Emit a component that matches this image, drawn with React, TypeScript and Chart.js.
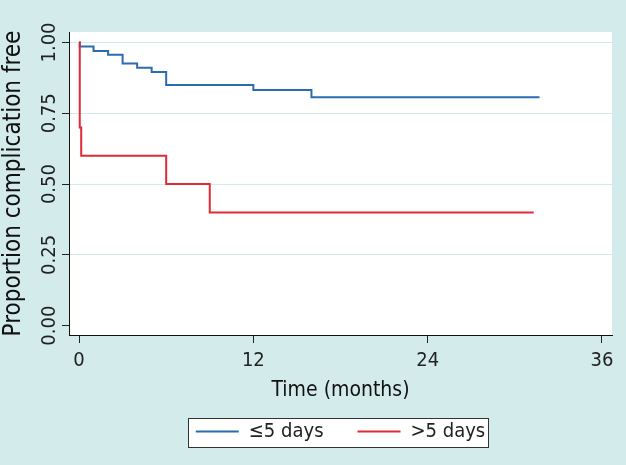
import React, { useEffect, useRef } from "react";
import { Chart, registerables } from "chart.js";

Chart.register(...registerables);

// ---- data ----
const shortLabel = "≤5 days";
const longLabel = ">5 days";
const shortTimes = [0, 0.05, 1, 2, 3, 4, 5, 6, 12, 16, 31.7];
const shortSurv = [1, 0.986, 0.97, 0.957, 0.926, 0.911, 0.896, 0.85, 0.832, 0.807, 0.807];
const longTimes = [0, 0.05, 0.15, 6, 9, 31.3];
const longSurv = [1, 0.7, 0.6, 0.5, 0.4, 0.4];
const xTickValues = [0, 12, 24, 36];
const yTickValues = [0, 0.25, 0.5, 0.75, 1];
const xTitle = "Time (months)";
const yTitle = "Proportion complication free";

const FONT = '"DejaVu Sans Condensed", "DejaVu Sans", sans-serif';
const BG = "#d4ebeb";
const BLUE = "#2b6cb0";
const RED = "#e02b35";

const bgPlugin = {
  id: "bgPlugin",
  beforeDraw(chart: any) {
    const { ctx, chartArea } = chart;
    ctx.save();
    ctx.fillStyle = BG;
    ctx.fillRect(0, 0, chart.width, chart.height);
    ctx.fillStyle = "#ffffff";
    ctx.fillRect(chartArea.left, chartArea.top, chartArea.right - chartArea.left, chartArea.bottom - chartArea.top);
    const lg = chart.legend;
    if (lg && lg.legendHitBoxes && lg.legendHitBoxes.length) {
      const hb = lg.legendHitBoxes;
      const first = hb[0];
      const last = hb[hb.length - 1];
      const l = Math.round(first.left - 8) + 0.5;
      const r = Math.round(last.left + last.width + 3) + 0.5;
      const t = Math.round(first.top - 4) + 0.5;
      const b = Math.round(first.top + first.height + 5) + 0.5;
      ctx.fillStyle = "#ffffff";
      ctx.fillRect(l, t, r - l, b - t);
      ctx.strokeStyle = "#333333";
      ctx.lineWidth = 1;
      ctx.strokeRect(l, t, r - l, b - t);
    }
    ctx.restore();
  },
};

const yLabelPlugin = {
  id: "yLabelPlugin",
  afterDraw(chart: any) {
    const ys = chart.scales.y;
    const ctx = chart.ctx;
    ctx.save();
    ctx.font = `20px ${FONT}`;
    ctx.fillStyle = "#222222";
    ctx.textAlign = "center";
    ctx.textBaseline = "alphabetic";
    yTickValues.forEach((v) => {
      const py = ys.getPixelForValue(v);
      ctx.save();
      ctx.translate(55, py);
      ctx.rotate(-Math.PI / 2);
      ctx.fillText(v.toFixed(2), 0, 0);
      ctx.restore();
    });
    ctx.restore();
  },
};

export default function App() {
  const ref = useRef<HTMLCanvasElement>(null);
  useEffect(() => {
    document.body.style.margin = "0";
    document.body.style.background = BG;
    const canvas = ref.current!;
    const chart = new Chart(canvas, {
      type: "line",
      data: {
        datasets: [
          {
            label: shortLabel,
            data: shortTimes.map((t, i) => ({ x: t, y: shortSurv[i] })),
            borderColor: BLUE,
            backgroundColor: BLUE,
            borderWidth: 2,
            pointRadius: 0,
            stepped: "before",
            fill: false,
            order: 1,
          },
          {
            label: longLabel,
            data: longTimes.map((t, i) => ({ x: t, y: longSurv[i] })),
            borderColor: RED,
            backgroundColor: RED,
            borderWidth: 2,
            pointRadius: 0,
            stepped: "before",
            fill: false,
            order: 0,
          },
        ],
      },
      options: {
        responsive: false,
        animation: false,
        layout: { padding: { top: 32, right: 14, left: 0, bottom: 13.5 } },
        plugins: {
          tooltip: { enabled: false },
          legend: {
            display: true,
            position: "bottom",
            fullSize: false,
            labels: {
              font: { family: FONT, size: 20 },
              color: "#222222",
              boxWidth: 43,
              boxHeight: 2,
              padding: 34,
              generateLabels: (ch: any) =>
                ch.data.datasets.map((ds: any, i: number) => ({
                  text: ds.label,
                  fillStyle: ds.borderColor,
                  strokeStyle: ds.borderColor,
                  lineWidth: 0,
                  hidden: false,
                  datasetIndex: i,
                  fontColor: "#222222",
                })),
            },
          },
        },
        scales: {
          x: {
            type: "linear",
            min: -0.69,
            max: 36.69,
            afterBuildTicks: (s: any) => {
              s.ticks = xTickValues.map((v) => ({ value: v }));
            },
            afterFit: (s: any) => {
              s.height = 52.5;
            },
            ticks: {
              font: { family: FONT, size: 20 },
              color: "#222222",
              padding: 6,
              maxRotation: 0,
              autoSkip: false,
              callback: (v: any) => String(v),
            },
            grid: {
              drawOnChartArea: false,
              color: "rgba(0,0,0,0)",
              tickColor: "#222222",
              tickLength: 8,
            },
            border: { display: true, color: "#111111", width: 1 },
            title: {
              display: true,
              text: xTitle,
              font: { family: FONT, size: 21, lineHeight: 1.2 },
              color: "#111111",
              padding: { top: 0, bottom: -16 },
            },
          },
          y: {
            type: "linear",
            min: -0.033,
            max: 1.037,
            afterBuildTicks: (s: any) => {
              s.ticks = yTickValues.map((v) => ({ value: v }));
            },
            afterFit: (s: any) => {
              s.width = 69;
            },
            ticks: { display: false },
            grid: {
              drawOnChartArea: true,
              color: (c: any) => (c.tick && c.tick.value === 0 ? "rgba(0,0,0,0)" : "#d3eaea"),
              tickColor: "#222222",
              tickLength: 7,
              lineWidth: 1,
            },
            border: { display: true, color: "#111111", width: 1 },
            title: {
              display: true,
              text: yTitle,
              font: { family: FONT, size: 24, lineHeight: 1.12 },
              color: "#111111",
              padding: { top: 0, bottom: 0 },
            },
          },
        },
      },
      plugins: [bgPlugin, yLabelPlugin],
    } as any);
    return () => chart.destroy();
  }, []);
  return <canvas ref={ref} width={626} height={465} style={{ display: "block" }} />;
}
